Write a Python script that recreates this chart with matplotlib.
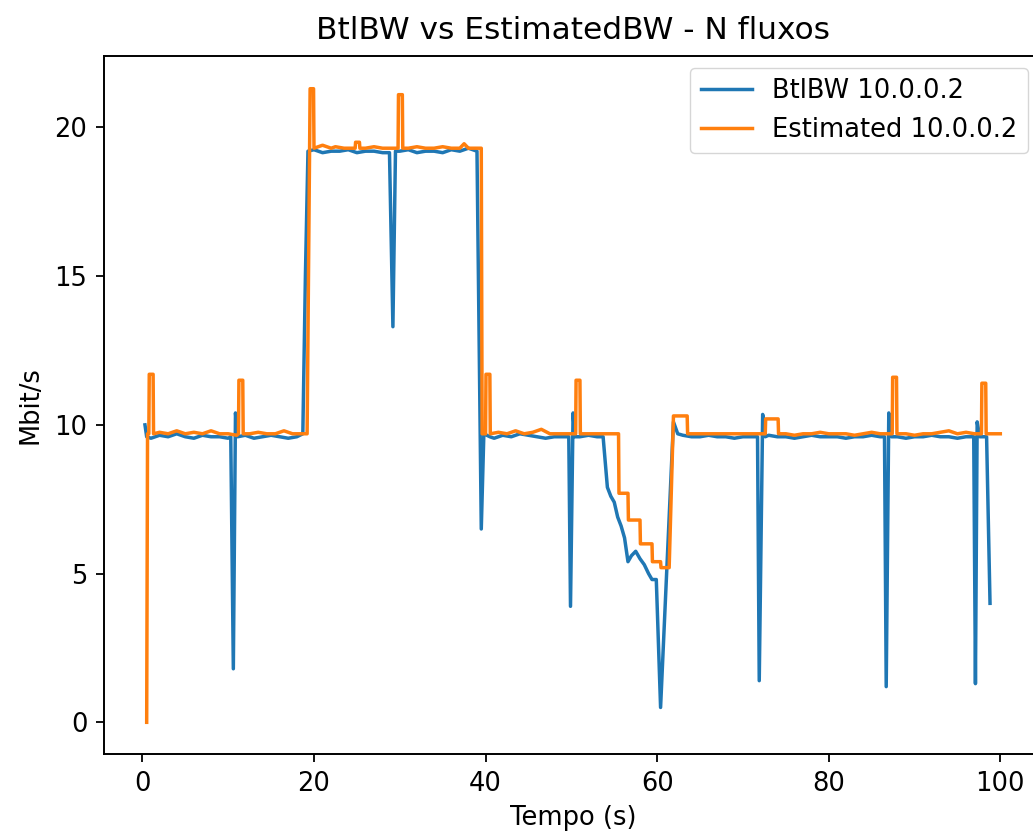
import matplotlib.pyplot as plt

# Messpunkte (Zeit in s, Mbit/s)
btl_punkte = [
    (0.3, 10.0), (0.5, 9.6), (1, 9.55), (2, 9.65), (3, 9.6), (4, 9.7), (5, 9.6), (6, 9.55), (7, 9.65),
    (8, 9.6), (9, 9.6), (10, 9.55), (10.3, 9.6), (10.6, 1.8), (10.85, 10.4), (11.1, 9.6), (12, 9.65),
    (13, 9.55), (14, 9.6), (15, 9.65), (16, 9.6), (17, 9.55), (18, 9.6), (18.7, 9.7), (19.0, 15.0),
    (19.3, 19.2), (20, 19.25), (21, 19.15), (22, 19.2), (23, 19.2), (24, 19.25), (25, 19.15), (26, 19.2),
    (27, 19.2), (28, 19.15), (28.8, 19.15), (29.2, 13.3), (29.5, 19.2), (30, 19.2), (31, 19.25),
    (32, 19.15), (33, 19.2), (34, 19.2), (35, 19.15), (36, 19.25), (37, 19.2), (38, 19.3), (39.0, 19.2),
    (39.5, 6.5), (39.8, 9.7), (40.5, 9.6), (41, 9.55), (42, 9.65), (43, 9.6), (44, 9.7), (45, 9.65),
    (46, 9.6), (47, 9.55), (48, 9.6), (49, 9.6), (49.7, 9.6), (49.9, 3.9), (50.2, 10.4), (50.4, 9.6),
    (51, 9.6), (52, 9.65), (53, 9.6), (53.7, 9.6), (54.2, 7.9), (54.6, 7.6), (55.0, 7.4), (55.4, 6.9),
    (55.8, 6.6), (56.2, 6.2), (56.6, 5.4), (57.0, 5.6), (57.5, 5.75), (58.0, 5.5), (58.5, 5.3),
    (59.0, 5.0), (59.4, 4.8), (59.9, 4.8), (60.4, 0.5), (61.9, 10.1), (62.4, 9.7), (63, 9.65), (64, 9.6),
    (65, 9.6), (66, 9.65), (67, 9.6), (68, 9.6), (69, 9.55), (70, 9.6), (71, 9.6), (71.7, 9.6),
    (71.9, 1.4), (72.3, 10.35), (72.6, 9.6), (73, 9.65), (74, 9.6), (75, 9.6), (76, 9.55), (77, 9.6),
    (78, 9.65), (79, 9.6), (80, 9.6), (81, 9.6), (82, 9.55), (83, 9.6), (84, 9.6), (85, 9.65), (86, 9.6),
    (86.5, 9.6), (86.7, 1.2), (87.0, 10.4), (87.3, 9.6), (88, 9.6), (89, 9.55), (90, 9.6), (91, 9.6),
    (92, 9.65), (93, 9.6), (94, 9.6), (95, 9.55), (96, 9.6), (96.9, 9.6), (97.1, 1.3), (97.3, 10.1),
    (97.6, 9.6), (98.4, 9.6), (98.8, 4.0),
]

est_punkte = [
    (0.5, 0.0), (0.6, 9.7), (0.75, 9.7), (0.8, 11.7), (1.25, 11.7), (1.3, 9.7), (2, 9.75), (3, 9.7),
    (4, 9.8), (5, 9.7), (6, 9.75), (7, 9.7), (8, 9.8), (9, 9.7), (10, 9.7), (11, 9.65), (11.2, 9.7),
    (11.25, 11.5), (11.7, 11.5), (11.75, 9.7), (12.5, 9.7), (13.5, 9.75), (14.5, 9.7), (15.5, 9.7),
    (16.5, 9.8), (17.5, 9.7), (18.5, 9.7), (19.2, 9.7), (19.5, 19.3), (19.55, 21.3), (19.95, 21.3),
    (20.0, 19.3), (21, 19.4), (22, 19.3), (22.5, 19.35), (23.5, 19.3), (24.8, 19.3), (24.85, 19.5),
    (25.3, 19.5), (25.35, 19.3), (26, 19.3), (27, 19.35), (28, 19.3), (29, 19.3), (29.8, 19.3),
    (29.85, 21.1), (30.3, 21.1), (30.35, 19.3), (31, 19.3), (32, 19.35), (33, 19.3), (34, 19.3),
    (35, 19.35), (36, 19.3), (37, 19.3), (37.5, 19.45), (38, 19.3), (38.5, 19.3), (39.5, 19.3),
    (39.6, 9.7), (40.0, 9.7), (40.05, 11.7), (40.5, 11.7), (40.55, 9.7), (41.5, 9.75), (42.5, 9.7),
    (43.5, 9.8), (44.5, 9.7), (45.5, 9.75), (46.5, 9.85), (47.5, 9.7), (48.5, 9.7), (49.5, 9.7),
    (50.5, 9.7), (50.55, 11.5), (51.0, 11.5), (51.05, 9.7), (52, 9.7), (53, 9.7), (54, 9.7), (55.5, 9.7),
    (55.55, 7.7), (56.6, 7.7), (56.65, 6.8), (58.0, 6.8), (58.05, 6.0), (59.4, 6.0), (59.45, 5.4),
    (60.4, 5.4), (60.45, 5.2), (61.4, 5.2), (61.9, 10.3), (63.5, 10.3), (63.55, 9.7), (64.5, 9.7),
    (65.5, 9.7), (66.5, 9.7), (67.5, 9.7), (68.5, 9.7), (69.5, 9.7), (70.5, 9.7), (71.5, 9.7),
    (72.6, 9.7), (72.65, 10.2), (74.1, 10.2), (74.15, 9.7), (75, 9.7), (76, 9.65), (77, 9.7), (78, 9.7),
    (79, 9.75), (80, 9.7), (81, 9.7), (82, 9.7), (83, 9.65), (84, 9.7), (85, 9.75), (86, 9.7),
    (87.4, 9.7), (87.45, 11.6), (87.9, 11.6), (87.95, 9.7), (89, 9.7), (90, 9.65), (91, 9.7), (92, 9.7),
    (93, 9.75), (94, 9.8), (95, 9.7), (96, 9.75), (97, 9.7), (97.8, 9.7), (97.85, 11.4), (98.3, 11.4),
    (98.35, 9.7), (99, 9.7), (100, 9.7),
]

t_btl = [p[0] for p in btl_punkte]
bw_btl = [p[1] for p in btl_punkte]
t_est = [p[0] for p in est_punkte]
bw_est = [p[1] for p in est_punkte]

fig = plt.figure(figsize=(10.33, 8.36), dpi=100)
ax = fig.add_axes([104 / 1033, 82 / 836, 939 / 1033, 698 / 836])

ax.plot(t_btl, bw_btl, color='#1f77b4', linewidth=2.5, label='BtlBW 10.0.0.2')
ax.plot(t_est, bw_est, color='#ff7f0e', linewidth=2.5, label='Estimated 10.0.0.2')

ax.set_xlim(-4.475, 104.975)
ax.set_ylim(-1.065, 22.4)
ax.set_xticks([0, 20, 40, 60, 80, 100])
ax.set_yticks([0, 5, 10, 15, 20])
ax.tick_params(labelsize=18.5, length=6, width=1.3, pad=6)
for s in ax.spines.values():
    s.set_linewidth(1.4)

ax.set_title('BtlBW vs EstimatedBW - N fluxos', fontsize=22.5, pad=12)
ax.set_xlabel('Tempo (s)', fontsize=18.5, labelpad=6)
ax.set_ylabel('Mbit/s', fontsize=18.5, labelpad=8)
ax.legend(loc='upper right', bbox_to_anchor=(1028 / 1033, 768 / 836), bbox_transform=fig.transFigure,
          borderaxespad=0, fontsize=18.5)

plt.savefig('out.png', dpi=100)
